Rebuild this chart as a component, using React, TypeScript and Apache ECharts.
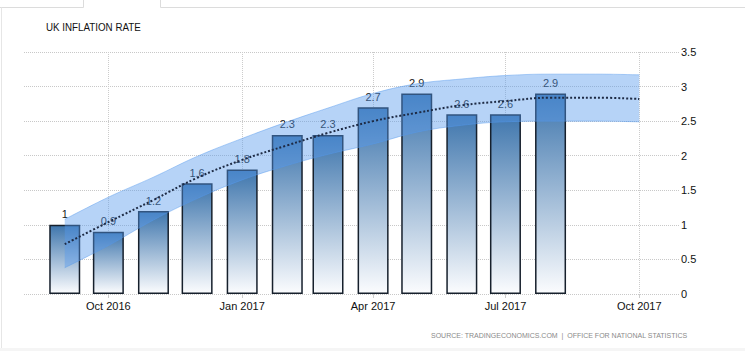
import React, { useEffect, useRef } from "react";
import * as echarts from "echarts";

// ---- data ----
const BAR_MONTHS = ["2016-09", "2016-10", "2016-11", "2016-12", "2017-01", "2017-02", "2017-03", "2017-04", "2017-05", "2017-06", "2017-07", "2017-08"];
const INFLATION = [1.0, 0.9, 1.2, 1.6, 1.8, 2.3, 2.3, 2.7, 2.9, 2.6, 2.6, 2.9];

const TREND_MONTHS = ["2016-09", "2016-10", "2016-11", "2016-12", "2017-01", "2017-02", "2017-03", "2017-04", "2017-05", "2017-06", "2017-07", "2017-08", "2017-09", "2017-10"];
const TREND = [0.72, 1.04, 1.36, 1.68, 1.94, 2.15, 2.33, 2.5, 2.62, 2.73, 2.79, 2.84, 2.84, 2.82];
const BAND_UPPER = [1.08, 1.4, 1.69, 1.99, 2.25, 2.49, 2.69, 2.9, 3.04, 3.11, 3.16, 3.18, 3.18, 3.17];
const BAND_LOWER = [0.38, 0.7, 1.07, 1.38, 1.65, 1.86, 2.02, 2.17, 2.34, 2.44, 2.49, 2.5, 2.5, 2.49];

const X_TICKS = ["2016-10", "2017-01", "2017-04", "2017-07", "2017-10"];
const X_MIN = "2016-08-04";
const X_MAX = "2017-10-29";
const MONTH_NAMES = ["Jan", "Feb", "Mar", "Apr", "May", "Jun", "Jul", "Aug", "Sep", "Oct", "Nov", "Dec"];

const TITLE = "UK INFLATION RATE";
const SOURCE = "SOURCE: TRADINGECONOMICS.COM  |  OFFICE FOR NATIONAL STATISTICS";

const ts = (s: string) => {
  const p = s.split("-").map(Number);
  return Date.UTC(p[0], p[1] - 1, p[2] || 1);
};

const FONT = "'Liberation Sans', Arial, sans-serif";
const BORDER = "#dcdcdc";

export default function App() {
  const ref = useRef<HTMLDivElement>(null);

  useEffect(() => {
    if (!ref.current) return;
    const chart = echarts.init(ref.current, undefined, { renderer: "svg" });

    const barData = BAR_MONTHS.map((m, i) => [ts(m), INFLATION[i]]);
    // value first, date second, so that stacking works on the value dimension
    const lowerData = TREND_MONTHS.map((m, i) => [BAND_LOWER[i], ts(m)]);
    const widthData = TREND_MONTHS.map((m, i) => [+(BAND_UPPER[i] - BAND_LOWER[i]).toFixed(3), ts(m)]);
    const trendData = TREND_MONTHS.map((m, i) => [ts(m), TREND[i]]);
    const tickValues = X_TICKS.map(ts);

    chart.setOption({
      animation: false,
      backgroundColor: "#ffffff",
      grid: { left: 24, right: 65, top: 52, bottom: 57 },
      xAxis: {
        type: "value",
        min: ts(X_MIN),
        max: ts(X_MAX),
        axisLine: { show: false },
        axisTick: {
          show: true,
          length: 4,
          lineStyle: { color: "#cccccc" },
          customValues: tickValues,
        },
        axisLabel: {
          customValues: tickValues,
          margin: 6,
          fontSize: 11,
          fontFamily: FONT,
          color: "#111111",
          formatter: (v: number) => {
            const d = new Date(v);
            return MONTH_NAMES[d.getUTCMonth()] + " " + d.getUTCFullYear();
          },
        },
        splitLine: { show: true, lineStyle: { color: "#cccccc", type: "dotted", width: 1 } },
      },
      yAxis: {
        type: "value",
        position: "right",
        min: 0,
        max: 3.5,
        interval: 0.5,
        axisLine: { show: false },
        axisTick: { show: false },
        axisLabel: { margin: 1, fontSize: 11, fontFamily: FONT, color: "#111111" },
        splitLine: { show: true, lineStyle: { color: "#c8c8c8", type: "dotted", width: 1 } },
      },
      series: [
        {
          type: "bar",
          data: barData,
          barWidth: 31,
          z: 2,
          itemStyle: {
            color: new echarts.graphic.LinearGradient(0, 0, 0, 1, [
              { offset: 0, color: "#3f76ad" },
              { offset: 1, color: "#fbfcfe" },
            ]),
            borderColor: "#16202c",
            borderWidth: 1.5,
          },
          label: {
            show: true,
            position: "top",
            distance: 5,
            fontSize: 11,
            fontFamily: FONT,
            color: "#1a1a1a",
            formatter: (p: any) => String(p.value[1]),
          },
        },
        {
          type: "line",
          data: lowerData,
          encode: { x: 1, y: 0 },
          stack: "band",
          symbol: "none",
          smooth: 0.4,
          z: 3,
          lineStyle: { color: "rgba(85,154,237,0.45)", width: 1 },
        },
        {
          type: "line",
          data: widthData,
          encode: { x: 1, y: 0 },
          stack: "band",
          symbol: "none",
          smooth: 0.4,
          z: 3,
          lineStyle: { color: "rgba(85,154,237,0.45)", width: 1 },
          areaStyle: { color: "rgba(85,154,237,0.43)", opacity: 1 },
        },
        {
          type: "line",
          data: trendData,
          symbol: "none",
          smooth: 0.4,
          z: 4,
          lineStyle: { color: "#1e2b45", width: 2, type: [2, 2] },
        },
      ],
      graphic: [
        { type: "line", shape: { x1: 0, y1: 7.5, x2: 83.5, y2: 7.5 }, style: { stroke: BORDER, lineWidth: 1 }, silent: true },
        { type: "line", shape: { x1: 83.5, y1: 0, x2: 83.5, y2: 7.5 }, style: { stroke: BORDER, lineWidth: 1 }, silent: true },
        { type: "line", shape: { x1: 160.5, y1: 0, x2: 160.5, y2: 7.5 }, style: { stroke: BORDER, lineWidth: 1 }, silent: true },
        { type: "line", shape: { x1: 160.5, y1: 7.5, x2: 745, y2: 7.5 }, style: { stroke: BORDER, lineWidth: 1 }, silent: true },
        { type: "line", shape: { x1: 1.5, y1: 7.5, x2: 1.5, y2: 348 }, style: { stroke: "#e6e6e6", lineWidth: 1 }, silent: true },
        { type: "rect", shape: { x: 0, y: 348, width: 745, height: 3 }, style: { fill: "#f5f5f5" }, silent: true },
        {
          type: "text",
          x: 46,
          y: 27,
          scaleX: 0.89,
          style: { text: TITLE, fontSize: 11, fontFamily: FONT, fill: "#111111", textVerticalAlign: "middle" },
          silent: true,
        },
        {
          type: "text",
          x: 431,
          y: 335,
          style: { text: SOURCE, fontSize: 7, fontFamily: FONT, fill: "#8a8a8a", textVerticalAlign: "middle" },
          silent: true,
        },
      ],
    });

    return () => chart.dispose();
  }, []);

  return (
    <div
      ref={ref}
      style={{ position: "absolute", left: 0, top: 0, width: 745, height: 351, background: "#fff" }}
    />
  );
}
